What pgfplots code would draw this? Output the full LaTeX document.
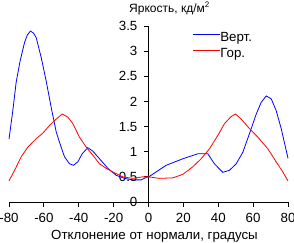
\documentclass[border=0pt]{standalone}
\usepackage{fontspec}
\setmainfont{Liberation Sans}
\usepackage{pgfplots}
\pgfplotsset{compat=1.18}

\begin{document}
\fontsize{13.3}{16}\selectfont
\begin{tikzpicture}
\begin{axis}[
  scale only axis,
  width=279pt, height=176pt,
  xmin=-80, xmax=80, ymin=0, ymax=3.5,
  axis lines=middle,
  axis line style={-, line width=0.8pt},
  hide obscured x ticks=false,
  hide obscured y ticks=false,
  xtick={-80,-60,...,80},
  ytick={0,0.5,...,3.5},
  tick align=outside,
  major tick length=4.5pt,
  tick style={black, line width=0.8pt},
  /pgf/number format/assume math mode=true,
  ticklabel style={font=\fontsize{13.3}{16}\selectfont},
  xticklabel style={anchor=north, yshift=-2pt},
  yticklabel style={anchor=east, xshift=-2pt},
  clip=false,
  legend cell align=left,
  legend style={draw=none, fill=none, at={(0.6584,0.97)}, anchor=north west,
    inner sep=0pt, row sep=4pt,
    font=\fontsize{13.3}{16}\selectfont,
    nodes={inner sep=0pt, text height=9.6pt, text depth=2.6pt}},
  legend image code/.code={\draw[#1] (0pt,3.5pt) -- (26.6pt,3.5pt);},
  /tikz/every even column/.append style={column sep=4pt},
]
% vertical viewing angle
\addplot[blue, line width=0.8pt] coordinates {
(-80,1.25) (-77.8,1.82) (-75.9,2.38) (-73.6,2.81) (-71.1,3.17) (-69.5,3.32)
(-67.7,3.40) (-66,3.36) (-64.4,3.27) (-61.5,2.87) (-58.7,2.41) (-55.8,1.88)
(-52.9,1.39) (-50.1,1.09) (-48.2,0.90) (-45.3,0.76) (-43.0,0.73) (-40.5,0.80)
(-38.0,0.96) (-34.8,1.08) (-31.9,1.01) (-28.1,0.86) (-23.3,0.67) (-18.5,0.53)
(-13.8,0.47) (-9.0,0.44) (-4.2,0.44) (-1.3,0.49) (0.6,0.51) (10.1,0.73)
(19.7,0.86) (28.3,0.96) (34.0,0.96) (37.8,0.76) (42.6,0.59) (46.4,0.63)
(50.3,0.76) (54.1,0.99) (57.9,1.36) (61.8,1.75) (64.6,1.98) (67.5,2.11)
(70.4,2.05) (73.2,1.82) (76.1,1.46) (80,0.87)
};
\addlegendentry{Верт.}
% horizontal viewing angle
\addplot[red, line width=0.8pt] coordinates {
(-80,0.42) (-76.8,0.63) (-73.0,0.90) (-69.2,1.09) (-64.4,1.26) (-60.6,1.37)
(-56.8,1.52) (-52.9,1.65) (-49.5,1.75) (-46.3,1.69) (-43.4,1.56) (-39.6,1.29)
(-35.7,1.09) (-31.9,0.93) (-28.1,0.76) (-24.3,0.67) (-19.5,0.58) (-14.7,0.50)
(-9.0,0.47) (-3.3,0.50) (0,0.50) (6.3,0.47) (13.9,0.48) (19.7,0.55)
(25.4,0.70) (30.2,0.86) (35.0,1.06) (39.7,1.32) (43.6,1.56) (47.4,1.70)
(49.9,1.75) (53.1,1.65) (57.9,1.46) (62.7,1.29) (68.4,1.06) (73.2,0.80)
(77.0,0.60) (80,0.42)
};
\addlegendentry{Гор.}
\end{axis}
\node[anchor=base west, inner sep=0pt, font=\fontsize{12}{14}\selectfont]
  at (120pt,190pt) {Яркость, кд/м\textsuperscript{2}};
\node[anchor=base, inner sep=0pt] at (145.5pt,-37pt)
  {Отклонение от нормали, градусы};
\pgfresetboundingbox
\path[use as bounding box] (-9pt,-40pt) rectangle (285pt,202pt);
\end{tikzpicture}
\end{document}
